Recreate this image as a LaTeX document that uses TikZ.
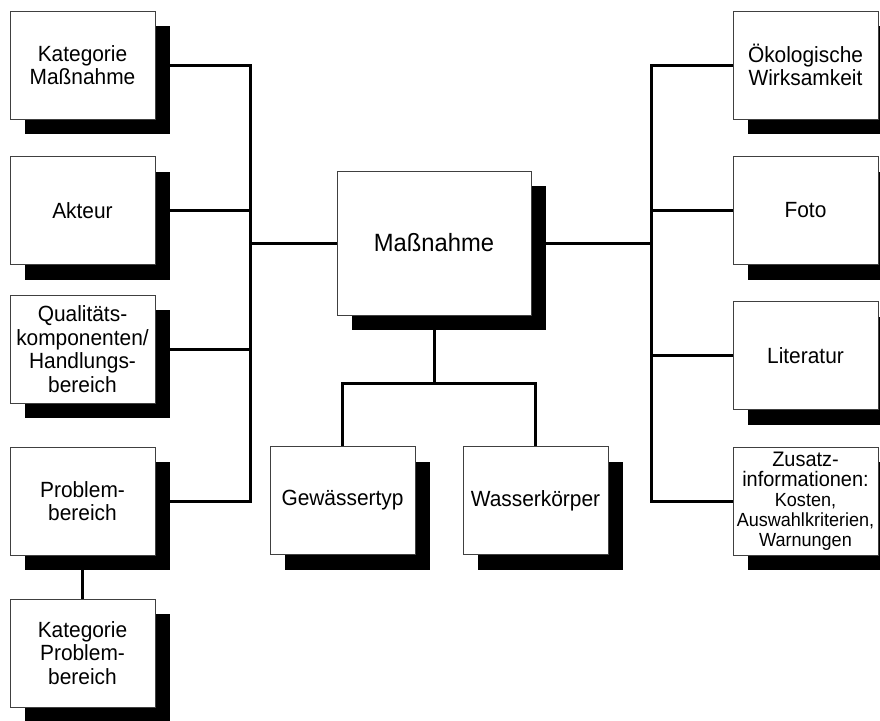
\documentclass[tikz,border=0pt]{standalone}
\usepackage{fontspec}
\setmainfont{Liberation Sans}[FakeStretch=0.95]
\usetikzlibrary{shadows,backgrounds}
\begin{document}
\begin{tikzpicture}[x=1pt,y=-1pt,
  box/.style={draw=black!75, line width=0.8pt, fill=white, rectangle,
    minimum width=145pt, minimum height=108pt, inner sep=1pt, align=center,
    font=\fontsize{22}{23.5}\selectfont,
    general shadow={fill=black, shadow xshift=15pt, shadow yshift=-15pt}},
  conn/.style={line width=3pt, line join=miter}]
\useasboundingbox (0,0) rectangle (880,720);
% left column
\node[box] (km) at (82.5,65) {Kategorie\\Maßnahme};
\node[box] (ak) at (82.5,210.5) {Akteur};
\node[box] (qk) at (82.5,349) {Qualitäts-\\komponenten/\\Handlungs-\\bereich};
\node[box] (pb) at (82.5,501) {Problem-\\bereich};
\node[box] (kp) at (82.5,653) {Kategorie\\Problem-\\bereich};
% centre
\node[box, minimum width=194pt, minimum height=144pt, font=\fontsize{25}{28}\selectfont] (m) at (434,243) {Maßnahme};
\node[box] (gt) at (342.5,500.5) {Gewässertyp};
\node[box] (wk) at (535.5,500.5) {Wasserkörper};
% right column
\node[box] (oe) at (805.5,65) {Ökologische\\Wirksamkeit};
\node[box] (fo) at (805.5,210.5) {Foto};
\node[box] (li) at (805.5,355.5) {Literatur};
\node[box, font=\fontsize{21}{20}\selectfont] (zi) at (805.5,501) {Zusatz-\\informationen:\\{\fontsize{19}{19}\selectfont Kosten,}\\{\fontsize{19}{19}\selectfont Auswahlkriterien,}\\{\fontsize{19}{19}\selectfont Warnungen}};
% junction points
\coordinate (TL) at (250,243);
\coordinate (TR) at (651,243);
\coordinate (TB) at (434,383);
\begin{scope}[on background layer]
\draw[conn] (km.east) -- (km.east -| TL) -- (pb.east -| TL) -- (pb.east);
\draw[conn] (ak.east) -- (ak.east -| TL);
\draw[conn] (qk.east) -- (qk.east -| TL);
\draw[conn] (TL) -- (m.west);
\draw[conn] (pb.south) -- (kp.north);
\draw[conn] (oe.west) -- (oe.west -| TR) -- (zi.west -| TR) -- (zi.west);
\draw[conn] (fo.west) -- (fo.west -| TR);
\draw[conn] (li.west) -- (li.west -| TR);
\draw[conn] (TR) -- (m.east);
\draw[conn] (m.south) -- (TB);
\draw[conn] (gt.north) -- (gt.north |- TB) -- (wk.north |- TB) -- (wk.north);
\end{scope}
\end{tikzpicture}
\end{document}
